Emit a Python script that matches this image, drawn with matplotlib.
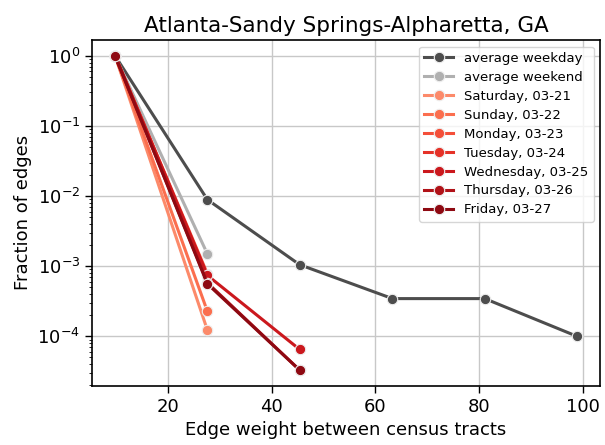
import numpy as np
import matplotlib
matplotlib.use('Agg')
import matplotlib.pyplot as plt
import matplotlib.cm as cm

# edge weight bin centres
bins = [9.8, 27.6, 45.4, 63.3, 81.1, 98.9]

# fraction of edges per bin
avg_weekday = [1.0, 8.9e-3, 1.05e-3, 3.45e-4, 3.45e-4, 1.0e-4]
avg_weekend = [1.0, 1.5e-3]

day_labels = ['Saturday, 03-21', 'Sunday, 03-22', 'Monday, 03-23', 'Tuesday, 03-24',
              'Wednesday, 03-25', 'Thursday, 03-26', 'Friday, 03-27']
day_values = [
    [1.0, 1.23e-4],
    [1.0, 2.28e-4],
    [1.0, 7.8e-4],
    [1.0, 7.2e-4],
    [1.0, 7.4e-4, 6.5e-5],
    [1.0, 5.8e-4, 3.3e-5],
    [1.0, 5.6e-4, 3.3e-5],
]

fig = plt.figure(figsize=(6.05, 4.45), dpi=100)
ax = fig.add_axes([0.152, 0.133, 0.840, 0.777])

style = dict(marker='o', markersize=7.5, markeredgecolor='#eeeeee', markeredgewidth=0.8, lw=2.2)

ax.plot(bins[:len(avg_weekday)], avg_weekday, color='#4d4d4d', label='average weekday', **style)
ax.plot(bins[:len(avg_weekend)], avg_weekend, color='#b0b0b0', label='average weekend', **style)

reds = cm.Reds(np.linspace(0.4, 0.92, len(day_labels)))
for lab, vals, col in zip(day_labels, day_values, reds):
    ax.plot(bins[:len(vals)], vals, color=col, label=lab, **style)

ax.set_yscale('log')
ax.grid(True, which='major', color='#c8c8c8', lw=1)
ax.set_axisbelow(True)
for s in ax.spines.values():
    s.set_linewidth(1.2)
ax.tick_params(axis='both', which='major', labelsize=13, length=5, width=1)
ax.tick_params(axis='y', which='minor', length=2.5)

ax.set_title('Atlanta-Sandy Springs-Alpharetta, GA', fontsize=15.5)
ax.set_xlabel('Edge weight between census tracts', fontsize=13)
ax.set_ylabel('Fraction of edges', fontsize=13)

ax.legend(loc='upper right', fontsize=9.5, handlelength=2.2, labelspacing=0.45)

fig.savefig('out.png', dpi=100)
